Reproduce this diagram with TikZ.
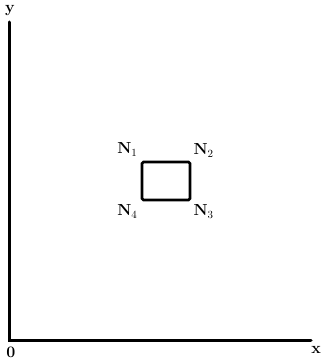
\documentclass[tikz,border=0pt]{standalone}
\usepackage{tikz}
\usetikzlibrary{positioning}
\tikzset{
  axis/.style={draw=black, line width=3pt, line cap=round},
  plate/.style={draw=black, line width=2.8pt, rounded corners=1.5pt,
    minimum width=48pt, minimum height=38pt, inner sep=0pt},
  lbl/.style={font=\fontsize{16}{18}\selectfont\bfseries, text=black, inner sep=0pt}
}
\begin{document}
\begin{tikzpicture}[x=1pt, y=-1pt]
\useasboundingbox (0,0) rectangle (322,363);
\coordinate (o) at (9,340);
\coordinate (ytip) at (9,22);
\coordinate (xtip) at (311,340);
\draw[axis] (ytip) -- (o) -- (xtip);
\node[lbl] (ylbl) at (10,11) {y};
\node[lbl] (xlbl) at (316,350) {x};
\node[lbl] (olbl) at (11,352) {0};
\node[plate] (rect) at (166,181) {};
\node[lbl, above left=4pt and 3pt of rect.north west] (n1) {N$_{1}$};
\node[lbl, above right=3pt and 2pt of rect.north east] (n2) {N$_{2}$};
\node[lbl, below right=3pt and 2pt of rect.south east] (n3) {N$_{3}$};
\node[lbl, below left=3pt and 3pt of rect.south west] (n4) {N$_{4}$};
\end{tikzpicture}
\end{document}
